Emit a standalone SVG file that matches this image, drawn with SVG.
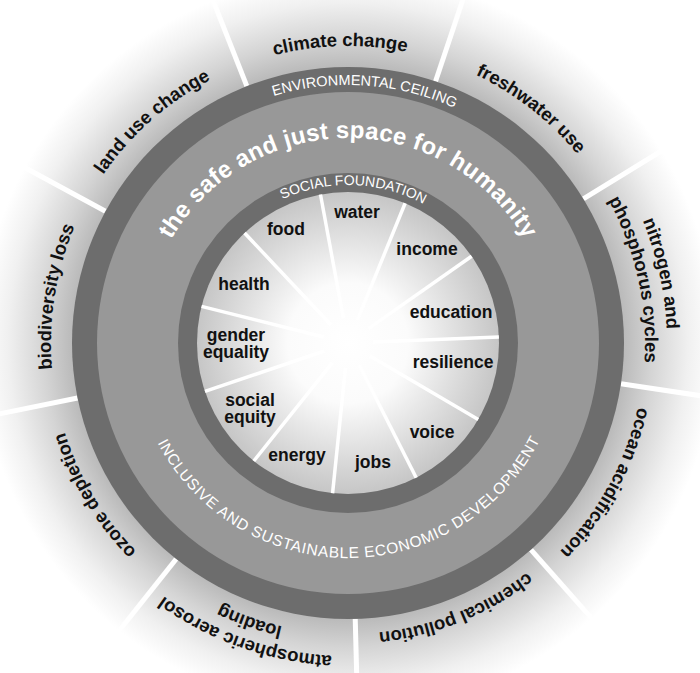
<svg xmlns="http://www.w3.org/2000/svg" width="700" height="673" viewBox="0 0 700 673">
<defs>
<radialGradient id="gOuter" gradientUnits="userSpaceOnUse" cx="348" cy="343" r="400">
<stop offset="0.69" stop-color="#bababa"/>
<stop offset="0.76" stop-color="#d4d4d4"/>
<stop offset="0.85" stop-color="#f0f0f0"/>
<stop offset="0.92" stop-color="#ffffff"/>
</radialGradient>
<radialGradient id="gInner" gradientUnits="userSpaceOnUse" cx="348" cy="343" r="151">
<stop offset="0" stop-color="#ffffff"/>
<stop offset="0.4" stop-color="#fbfbfb"/>
<stop offset="1" stop-color="#c6c6c6"/>
</radialGradient>
<path id="pOut" d="M348,640 A297,297 0 1 1 348,46 A297,297 0 1 1 348,640"/>
<path id="pOut2" d="M348,662 A319,319 0 1 1 348,24 A319,319 0 1 1 348,662"/>
<path id="pOutB" d="M348,634 A291,291 0 1 1 348,52 A291,291 0 1 1 348,634"/>
<path id="pOutB2" d="M348,656 A313,313 0 1 1 348,30 A313,313 0 1 1 348,656"/>
<path id="pEnv" d="M348,601 A258,258 0 1 1 348,85 A258,258 0 1 1 348,601"/>
<path id="pSafe" d="M348,548 A205,205 0 1 1 348,138 A205,205 0 1 1 348,548"/>
<path id="pSoc" d="M348,501 A158,158 0 1 1 348,185 A158,158 0 1 1 348,501"/>
<path id="pIncl" d="M348,128 A215,215 0 1 0 348,558 A215,215 0 1 0 348,128"/>
</defs>
<style>
.outer{font-family:"Liberation Sans",Arial,sans-serif;font-weight:bold;font-size:18.5px;fill:#111;}
.inner{font-family:"Liberation Sans",Arial,sans-serif;font-weight:bold;font-size:17.5px;fill:#111;text-anchor:middle;}
.band{font-family:"Liberation Sans",Arial,sans-serif;fill:#fff;}
.div{stroke:#fff;stroke-width:5;}
.spoke{stroke:#fff;stroke-width:3.5;}
</style>
<rect width="700" height="673" fill="#fff"/>
<circle cx="348" cy="343" r="420" fill="url(#gOuter)"/>
<g id="dividers">
<line class="div" x1="348" y1="67" x2="348" y2="-150" transform="rotate(-21.5 348 343)"/>
<line class="div" x1="348" y1="67" x2="348" y2="-150" transform="rotate(18.5 348 343)"/>
<line class="div" x1="348" y1="67" x2="348" y2="-150" transform="rotate(58.5 348 343)"/>
<line class="div" x1="348" y1="67" x2="348" y2="-150" transform="rotate(98.5 348 343)"/>
<line class="div" x1="348" y1="67" x2="348" y2="-150" transform="rotate(138.5 348 343)"/>
<line class="div" x1="348" y1="67" x2="348" y2="-150" transform="rotate(178.5 348 343)"/>
<line class="div" x1="348" y1="67" x2="348" y2="-150" transform="rotate(218.5 348 343)"/>
<line class="div" x1="348" y1="67" x2="348" y2="-150" transform="rotate(258.5 348 343)"/>
<line class="div" x1="348" y1="67" x2="348" y2="-150" transform="rotate(298.5 348 343)"/>
</g>
<g id="rings">
<circle id="environmental-ceiling-ring" cx="348" cy="343" r="276" fill="#6d6d6d"/>
<circle id="safe-space-band" cx="348" cy="343" r="251" fill="#989898"/>
<circle id="social-foundation-ring" cx="348" cy="343" r="170" fill="#6d6d6d"/>
<circle id="inner-disc" cx="348" cy="343" r="151" fill="url(#gInner)"/>
</g>
<g id="spokes">
<line class="spoke" x1="348" y1="318" x2="348" y2="192" transform="rotate(-10.5 348 343)"/>
<line class="spoke" x1="348" y1="318" x2="348" y2="192" transform="rotate(22.23 348 343)"/>
<line class="spoke" x1="348" y1="318" x2="348" y2="192" transform="rotate(54.95 348 343)"/>
<line class="spoke" x1="348" y1="318" x2="348" y2="192" transform="rotate(87.68 348 343)"/>
<line class="spoke" x1="348" y1="318" x2="348" y2="192" transform="rotate(120.41 348 343)"/>
<line class="spoke" x1="348" y1="318" x2="348" y2="192" transform="rotate(153.14 348 343)"/>
<line class="spoke" x1="348" y1="318" x2="348" y2="192" transform="rotate(185.86 348 343)"/>
<line class="spoke" x1="348" y1="318" x2="348" y2="192" transform="rotate(218.59 348 343)"/>
<line class="spoke" x1="348" y1="318" x2="348" y2="192" transform="rotate(251.32 348 343)"/>
<line class="spoke" x1="348" y1="318" x2="348" y2="192" transform="rotate(284.05 348 343)"/>
<line class="spoke" x1="348" y1="318" x2="348" y2="192" transform="rotate(316.77 348 343)"/>
</g>
<g id="band-labels">
<g id="environmental-ceiling" transform="rotate(3.8 348 343)"><text class="band" font-size="14.5" text-anchor="middle"><textPath href="#pEnv" startOffset="50%">ENVIRONMENTAL CEILING</textPath></text></g>
<g id="safe-just-space" transform="rotate(0 348 343)"><text class="band" font-size="24" font-weight="bold" letter-spacing="0.3" text-anchor="middle"><textPath href="#pSafe" startOffset="50%">the safe and just space for humanity</textPath></text></g>
<g id="social-foundation" transform="rotate(2 348 343)"><text class="band" font-size="14" text-anchor="middle"><textPath href="#pSoc" startOffset="50%">SOCIAL FOUNDATION</textPath></text></g>
<g id="inclusive-development" transform="rotate(-0.5 348 343)"><text class="band" font-size="15.5" letter-spacing="0.7" text-anchor="middle"><textPath href="#pIncl" startOffset="50%">INCLUSIVE AND SUSTAINABLE ECONOMIC DEVELOPMENT</textPath></text></g>
</g>
<g id="planetary-boundaries">
<g id="climate-change" transform="rotate(-1.5 348 343)"><text class="outer" text-anchor="middle"><textPath href="#pOut" startOffset="50%">climate change</textPath></text></g>
<g id="freshwater-use" transform="rotate(38 348 343)"><text class="outer" text-anchor="middle"><textPath href="#pOut" startOffset="50%">freshwater use</textPath></text></g>
<g id="nitrogen-phosphorus" transform="rotate(77.5 348 343)"><text class="outer" text-anchor="middle"><textPath href="#pOut2" startOffset="50%">nitrogen and</textPath></text><text class="outer" text-anchor="middle"><textPath href="#pOut" startOffset="50%">phosphorus cycles</textPath></text></g>
<g id="ocean-acidification" transform="rotate(118.5 348 343)"><text class="outer" text-anchor="middle"><textPath href="#pOut" startOffset="50%">ocean acidification</textPath></text></g>
<g id="chemical-pollution" transform="rotate(158 348 343)"><text class="outer" text-anchor="middle"><textPath href="#pOutB" startOffset="50%">chemical pollution</textPath></text></g>
<g id="atmospheric-aerosol-loading" transform="rotate(199.5 348 343)"><text class="outer" text-anchor="middle"><textPath href="#pOutB2" startOffset="50%">atmospheric aerosol</textPath></text><text class="outer" text-anchor="middle"><textPath href="#pOutB" startOffset="50%">loading</textPath></text></g>
<g id="ozone-depletion" transform="rotate(239 348 343)"><text class="outer" text-anchor="middle"><textPath href="#pOut" startOffset="50%">ozone depletion</textPath></text></g>
<g id="biodiversity-loss" transform="rotate(279 348 343)"><text class="outer" text-anchor="middle"><textPath href="#pOut" startOffset="50%">biodiversity loss</textPath></text></g>
<g id="land-use-change" transform="rotate(318.5 348 343)"><text class="outer" text-anchor="middle"><textPath href="#pOut" startOffset="50%">land use change</textPath></text></g>
</g>
<g id="social-dimensions">
<g id="water"><text class="inner" x="357" y="218">water</text></g>
<g id="food"><text class="inner" x="286" y="235">food</text></g>
<g id="income"><text class="inner" x="427" y="255">income</text></g>
<g id="health"><text class="inner" x="244" y="290">health</text></g>
<g id="education"><text class="inner" x="451" y="318">education</text></g>
<g id="gender-equality"><text class="inner" x="236" y="341">gender</text><text class="inner" x="236" y="358">equality</text></g>
<g id="resilience"><text class="inner" x="453" y="368">resilience</text></g>
<g id="social-equity"><text class="inner" x="250" y="406">social</text><text class="inner" x="250" y="423">equity</text></g>
<g id="voice"><text class="inner" x="432" y="438">voice</text></g>
<g id="energy"><text class="inner" x="297" y="461">energy</text></g>
<g id="jobs"><text class="inner" x="373" y="468">jobs</text></g>
</g>
</svg>
